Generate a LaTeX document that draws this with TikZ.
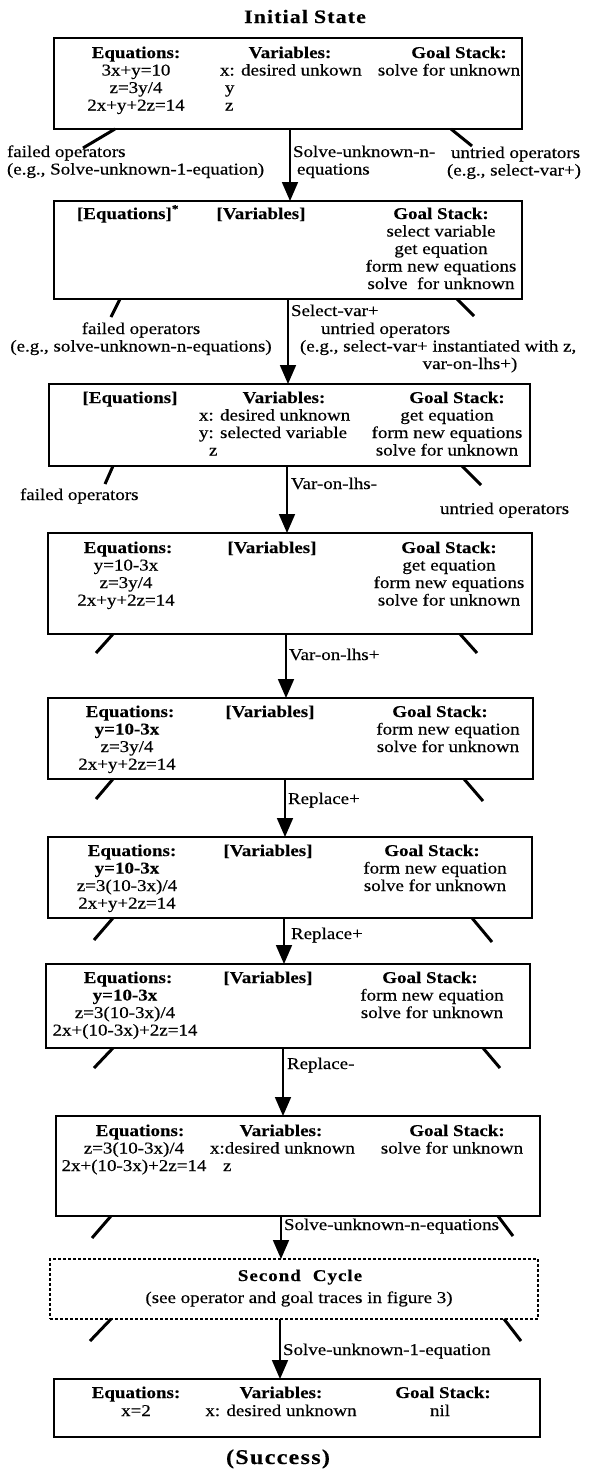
\documentclass[tikz,border=0pt]{standalone}
\usepackage{fontspec}
\setmainfont{Liberation Serif}[FakeStretch=1.15,UprightFeatures={FakeBold=0.4},BoldFeatures={FakeBold=0.2}]
\newfontfamily\spacedfont{Liberation Serif}[FakeStretch=1.15,LetterSpace=6,BoldFeatures={FakeBold=0.2}]
\usetikzlibrary{arrows.meta}
\newcommand\nf{\fontsize{16.5}{17.5}\selectfont}
\newcommand\mycol[2]{\begin{tabular}[t]{@{}#1@{}}#2\end{tabular}}
\begin{document}
\begin{tikzpicture}[x=1pt,y=-1pt,
  every node/.style={inner sep=0pt, outer sep=0pt, font=\nf},
  sbox/.style={draw, line width=2.6pt, anchor=north west},
  dbox/.style={draw, line width=2pt, dash pattern=on 3pt off 2pt, anchor=north west},
  hdr/.style={anchor=base, font=\nf\bfseries},
  txt/.style={anchor=base},
  txtl/.style={anchor=base west},
  lbl/.style={anchor=base west},
  arr/.style={line width=1.8pt, -{Triangle[length=19pt,width=16pt]}},
  stub/.style={line width=3pt}
]
\fill[white] (0,0) rectangle (590,1473);
\useasboundingbox (0,0) rectangle (590,1473);

% title
\node[anchor=base, font=\fontsize{19}{22}\spacedfont\bfseries] (title) at (305,23) {Initial\hspace{6pt}State};

% boxes
\node[sbox, minimum width=468pt, minimum height=91pt] (b1) at (54,38) {};
\node[sbox, minimum width=468pt, minimum height=98pt] (b2) at (54,201) {};
\node[sbox, minimum width=481pt, minimum height=82pt] (b3) at (49,384) {};
\node[sbox, minimum width=484pt, minimum height=101pt] (b4) at (48,533) {};
\node[sbox, minimum width=485pt, minimum height=81pt] (b5) at (48,698) {};
\node[sbox, minimum width=484pt, minimum height=81pt] (b6) at (48,837) {};
\node[sbox, minimum width=484pt, minimum height=84pt] (b7) at (46,964) {};
\node[sbox, minimum width=484pt, minimum height=100pt] (b8) at (56,1116) {};
\node[dbox, minimum width=488pt, minimum height=60pt] (bd) at (50,1259) {};
\node[sbox, minimum width=486pt, minimum height=58pt] (b10) at (54,1379) {};

% box 1
\node[hdr] (b1eh) at (136,58) {Equations:};
\node[txt] (b1el) at (136,75.5) {\mycol{c}{3x+y=10\\z=3y/4\\2x+y+2z=14}};
\node[hdr] (b1vh) at (290,58) {Variables:};
\node[txtl] (b1vl) at (220,75.5) {\mycol{l}{x: desired unkown\\\hspace{5pt}y\\\hspace{5pt}z}};
\node[hdr] (b1gh) at (459,58) {Goal Stack:};
\node[txt] (b1gl) at (449,75.5) {solve for unknown};

% box 2
\node[hdr] (b2eh) at (128,219) {[Equations]\textsuperscript{*}};
\node[hdr] (b2vh) at (261,219) {[Variables]};
\node[hdr] (b2gh) at (441,219) {Goal Stack:};
\node[txt] (b2gl) at (441,236.5) {\mycol{c}{select variable\\get equation\\form new equations\\solve\ \ for unknown}};

% box 3
\node[hdr] (b3eh) at (130,403) {[Equations]};
\node[hdr] (b3vh) at (284,403) {Variables:};
\node[txtl] (b3vl) at (199,420.5) {\mycol{l}{x: desired unknown\\y: selected variable\\\hspace{10pt}z}};
\node[hdr] (b3gh) at (457,403) {Goal Stack:};
\node[txt] (b3gl) at (447,420.5) {\mycol{c}{get equation\\form new equations\\solve for unknown}};

% box 4
\node[hdr] (b4eh) at (128,553) {Equations:};
\node[txt] (b4el) at (126,570.5) {\mycol{c}{y=10-3x\\z=3y/4\\2x+y+2z=14}};
\node[hdr] (b4vh) at (272,553) {[Variables]};
\node[hdr] (b4gh) at (449,553) {Goal Stack:};
\node[txt] (b4gl) at (449,570.5) {\mycol{c}{get equation\\form new equations\\solve for unknown}};

% box 5
\node[hdr] (b5eh) at (130,717) {Equations:};
\node[txt] (b5el) at (127,734.5) {\mycol{c}{\textbf{y=10-3x}\\z=3y/4\\2x+y+2z=14}};
\node[hdr] (b5vh) at (270,717) {[Variables]};
\node[hdr] (b5gh) at (440,717) {Goal Stack:};
\node[txt] (b5gl) at (448,734.5) {\mycol{c}{form new equation\\solve for unknown}};

% box 6
\node[hdr] (b6eh) at (132,856) {Equations:};
\node[txt] (b6el) at (127,873.5) {\mycol{c}{\textbf{y=10-3x}\\z=3(10-3x)/4\\2x+y+2z=14}};
\node[hdr] (b6vh) at (268,856) {[Variables]};
\node[hdr] (b6gh) at (432,856) {Goal Stack:};
\node[txt] (b6gl) at (435,873.5) {\mycol{c}{form new equation\\solve for unknown}};

% box 7
\node[hdr] (b7eh) at (128,983) {Equations:};
\node[txt] (b7el) at (125,1000.5) {\mycol{c}{\textbf{y=10-3x}\\z=3(10-3x)/4\\2x+(10-3x)+2z=14}};
\node[hdr] (b7vh) at (268,983) {[Variables]};
\node[hdr] (b7gh) at (430,983) {Goal Stack:};
\node[txt] (b7gl) at (432,1000.5) {\mycol{c}{form new equation\\solve for unknown}};

% box 8
\node[hdr] (b8eh) at (140,1136) {Equations:};
\node[txt] (b8el) at (134,1153.5) {\mycol{c}{z=3(10-3x)/4\\2x+(10-3x)+2z=14}};
\node[hdr] (b8vh) at (281,1136) {Variables:};
\node[txtl] (b8vl) at (210,1153.5) {\mycol{l}{x:desired unknown\\\hspace{13pt}z}};
\node[hdr] (b8gh) at (457,1136) {Goal Stack:};
\node[txt] (b8gl) at (452,1153.5) {solve for unknown};

% dashed box
\node[anchor=base, font=\nf\spacedfont\bfseries] (bdh) at (300,1281) {Second\hspace{12pt}Cycle};
\node[txt] (bdl) at (299,1303) {(see operator and goal traces in figure 3)};

% box 10
\node[hdr] (b10eh) at (136,1398) {Equations:};
\node[txt] (b10el) at (136,1416) {x=2};
\node[hdr] (b10vh) at (281,1398) {Variables:};
\node[txt] (b10vl) at (281,1416) {x: desired unknown};
\node[hdr] (b10gh) at (443,1398) {Goal Stack:};
\node[txt] (b10gl) at (440,1416) {nil};

\node[anchor=base, font=\fontsize{21}{24}\spacedfont\bfseries] (succ) at (278,1464) {(Success)};

% arrow x positions
\coordinate (ax1) at (290,0);
\coordinate (ax2) at (288,0);
\coordinate (ax3) at (287,0);
\coordinate (ax4) at (286,0);
\coordinate (ax5) at (285,0);
\coordinate (ax6) at (284,0);
\coordinate (ax7) at (283,0);
\coordinate (ax8) at (281,0);
\coordinate (ax9) at (280,0);

\draw[arr] (b1.south -| ax1) -- (b2.north -| ax1);
\draw[arr] (b2.south -| ax2) -- (b3.north -| ax2);
\draw[arr] (b3.south -| ax3) -- (b4.north -| ax3);
\draw[arr] (b4.south -| ax4) -- (b5.north -| ax4);
\draw[arr] (b5.south -| ax5) -- (b6.north -| ax5);
\draw[arr] (b6.south -| ax6) -- (b7.north -| ax6);
\draw[arr] (b7.south -| ax7) -- (b8.north -| ax7);
\draw[arr] (b8.south -| ax8) -- (bd.north -| ax8);
\draw[arr] (bd.south -| ax9) -- (b10.north -| ax9);

% stubs
\draw[stub] ([xshift=61pt]b1.south west) -- ++(-32,19);
\draw[stub] ([xshift=397pt]b1.south west) -- ++(21,17);
\draw[stub] ([xshift=66pt]b2.south west) -- ++(-9,18);
\draw[stub] ([xshift=403pt]b2.south west) -- ++(17,17);
\draw[stub] ([xshift=64pt]b3.south west) -- ++(-8,18);
\draw[stub] ([xshift=413pt]b3.south west) -- ++(19,19);
\draw[stub] ([xshift=65pt]b4.south west) -- ++(-17,19);
\draw[stub] ([xshift=412pt]b4.south west) -- ++(17,19);
\draw[stub] ([xshift=65pt]b5.south west) -- ++(-17,20);
\draw[stub] ([xshift=416pt]b5.south west) -- ++(19,22);
\draw[stub] ([xshift=65pt]b6.south west) -- ++(-19,22);
\draw[stub] ([xshift=424pt]b6.south west) -- ++(20,24);
\draw[stub] ([xshift=67pt]b7.south west) -- ++(-19,20);
\draw[stub] ([xshift=437pt]b7.south west) -- ++(17,20);
\draw[stub] ([xshift=55pt]b8.south west) -- ++(-19,22);
\draw[stub] ([xshift=442pt]b8.south west) -- ++(15,20);
\draw[stub] ([xshift=61pt]bd.south west) -- ++(-21,22);
\draw[stub] ([xshift=454pt]bd.south west) -- ++(17,22);

% labels
\node[lbl] (l1a) at (7,157) {\mycol{l}{failed operators\\(e.g., Solve-unknown-1-equation)}};
\node[lbl] (l1b) at (293,157) {\mycol{l}{Solve-unknown-n-\\\hspace{4pt}equations}};
\node[lbl] (l1c) at (447,158) {\mycol{l}{\hspace{4pt}untried operators\\(e.g., select-var+)}};

\node[lbl] (l2a) at (291,316) {Select-var+};
\node[txt] (l2b) at (141,334) {\mycol{c}{failed operators\\(e.g., solve-unknown-n-equations)}};
\node[lbl] (l2c) at (321,334) {untried operators};
\node[lbl] (l2d) at (300,351.5) {(e.g., select-var+ instantiated with z,};
\node[txt] (l2e) at (470,369) {var-on-lhs+)};

\node[lbl] (l3a) at (20,500) {failed operators};
\node[lbl] (l3b) at (291,489) {Var-on-lhs-};
\node[lbl] (l3c) at (440,514) {untried operators};

\node[lbl] (l4) at (289,660) {Var-on-lhs+};
\node[lbl] (l5) at (288,804) {Replace+};
\node[lbl] (l6) at (291,939) {Replace+};
\node[lbl] (l7) at (287,1069) {Replace-};
\node[lbl] (l8) at (284,1230) {Solve-unknown-n-equations};
\node[lbl] (l9) at (283,1355) {Solve-unknown-1-equation};
\end{tikzpicture}
\end{document}
